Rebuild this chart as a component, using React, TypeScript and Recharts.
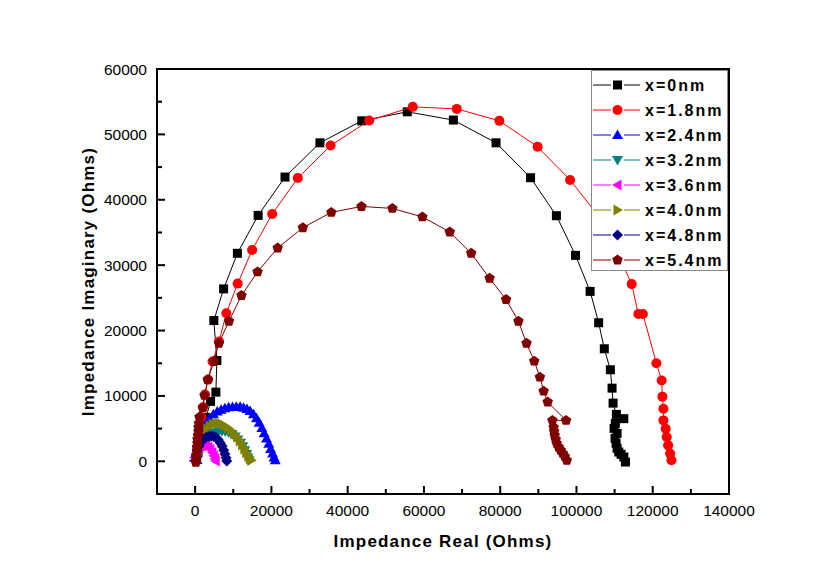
import React from "react";
import { ScatterChart, Scatter, XAxis, YAxis, ReferenceArea, Label } from "recharts";

const x0nm = [
  [340, 300], [740, 1530], [1270, 2900], [1930, 4580], [2850, 6720], [4040, 9160],
  [5440, 10580], [5700, 15420], [4910, 21530], [7470, 26370], [11080, 31810],
  [16520, 37610], [23570, 43470], [32720, 48710], [43700, 52070], [55630, 53450],
  [67720, 52190], [78910, 48710], [87960, 43370], [94740, 37560], [99750, 31500],
  [103580, 25990], [105820, 21190], [107300, 17210], [108890, 14000], [109330, 11190],
  [109600, 8900], [110470, 7180], [112420, 6520], [110200, 5800], [109860, 5040],
  [110650, 4280], [110120, 3510], [110390, 2750], [110650, 1990], [111100, 1420],
  [111710, 1070], [112420, 660], [112840, -110],
];

const x18nm = [
  [340, 760], [610, 1990], [870, 3360], [1270, 5040], [1660, 6720], [2060, 8250],
  [2590, 10230], [3380, 12520], [4570, 15270], [6280, 18320], [8180, 22650],
  [11160, 27180], [14940, 32330], [20210, 37820], [26920, 43320], [35520, 48300],
  [45650, 52120], [57080, 54210], [68610, 53900], [79780, 52070], [89810, 48100],
  [98330, 43020], [106500, 37000], [111000, 31500], [114480, 27100], [116230, 22520],
  [117420, 22520], [120950, 15010], [122340, 12370], [122530, 9890], [122800, 8050],
  [122800, 6260], [123400, 4990], [123670, 3710], [124030, 2440], [124560, 1180],
  [124900, 150],
];

const x24nm = [
  [500, 200], [700, 1300], [1000, 2500], [1500, 3700], [2100, 4800], [2900, 5800],
  [3800, 6600], [4800, 7200], [5800, 7600], [6800, 7900], [7800, 8100], [8800, 8250],
  [9800, 8300], [10800, 8350], [11800, 8350], [12700, 8200], [13600, 8000], [14400, 7700],
  [15300, 7200], [16100, 6600], [16800, 5900], [17500, 5100], [18100, 4300], [18700, 3500],
  [19300, 2700], [19800, 1900], [20300, 1200], [20700, 600], [21000, 150],
];

const x32nm = [
  [400, 100], [600, 900], [900, 1700], [1400, 2400], [2000, 3000], [2700, 3500],
  [3500, 3900], [4300, 4200], [5200, 4400], [6100, 4550], [7000, 4600], [7900, 4550],
  [8800, 4400], [9700, 4150], [10500, 3800], [11200, 3350], [11900, 2850], [12500, 2300],
  [13000, 1700], [13500, 1100], [13800, 600], [14100, 150],
];

const x36nm = [
  [-300, 100], [-100, 600], [200, 1100], [600, 1600], [1100, 2000], [1700, 2300],
  [2300, 2400], [2900, 2350], [3500, 2150], [4000, 1800], [4500, 1350], [4900, 850],
  [5200, 400], [5400, 50],
];

const x40nm = [
  [300, 100], [500, 1000], [800, 2000], [1200, 2900], [1700, 3700], [2300, 4400],
  [3000, 5000], [3800, 5400], [4600, 5700], [5400, 5850], [6200, 5850], [7000, 5700],
  [7800, 5450], [8600, 5100], [9400, 4700], [10200, 4200], [11000, 3700], [11700, 3100],
  [12300, 2500], [12900, 1900], [13400, 1300], [13900, 800], [14300, 400], [14700, 150],
];

const x48nm = [
  [100, 100], [300, 800], [600, 1600], [1000, 2300], [1500, 2900], [2100, 3350],
  [2800, 3650], [3500, 3800], [4200, 3850], [4900, 3800], [5500, 3600], [6100, 3250],
  [6600, 2800], [7100, 2300], [7500, 1700], [7800, 1100], [8100, 550], [8300, 50],
];

const x54nm = [
  [210, -150], [340, 300], [340, 920], [480, 1530], [480, 2140], [610, 2750], [610, 3360],
  [740, 3970], [870, 4580], [870, 5190], [1000, 5800], [1130, 6760], [2010, 8200],
  [2450, 10080], [3330, 12480], [4910, 15270], [6230, 18060], [8870, 21420], [12140, 25350],
  [16360, 28970], [21640, 32630], [28240, 35730], [35710, 38070], [43620, 38980],
  [51720, 38680], [59590, 37380], [66770, 35080], [72390, 31810], [77220, 27990],
  [81550, 24740], [84790, 21410], [86900, 18060], [88930, 15320], [90410, 12870],
  [91390, 10730], [92450, 9060], [97270, 6260], [93690, 6260], [94030, 5190], [94160, 4580],
  [94290, 3970], [94560, 3360], [94820, 2750], [95350, 2140], [95880, 1680], [96410, 1220],
  [96930, 760], [97460, 150],
];

const X_TICKS = [0, 10000, 20000, 30000, 40000, 50000, 60000, 70000, 80000, 90000, 100000, 110000, 120000, 130000, 140000];
const Y_TICKS = [0, 5000, 10000, 15000, 20000, 25000, 30000, 35000, 40000, 45000, 50000, 55000, 60000];

const SERIES = [
  { name: "x=0nm", color: "#000000", shape: "square", data: x0nm },
  { name: "x=1.8nm", color: "#ff0000", shape: "circle", data: x18nm },
  { name: "x=2.4nm", color: "#0000ff", shape: "up", data: x24nm },
  { name: "x=3.2nm", color: "#008080", shape: "down", data: x32nm },
  { name: "x=3.6nm", color: "#ff00ff", shape: "left", data: x36nm },
  { name: "x=4.0nm", color: "#808000", shape: "right", data: x40nm },
  { name: "x=4.8nm", color: "#000080", shape: "diamond", data: x48nm },
  { name: "x=5.4nm", color: "#800000", shape: "pentagon", data: x54nm },
];

const FONT = "'Liberation Sans', Arial, sans-serif";

function Marker({ kind, cx, cy, color }: { kind: string; cx: number; cy: number; color: string }) {
  const s = 5.5;
  const pts = (arr: number[][]) => arr.map(([a, b]) => `${cx + a},${cy + b}`).join(" ");
  switch (kind) {
    case "square":
      return <rect x={cx - 4.5} y={cy - 4.5} width={9} height={9} fill={color} />;
    case "circle":
      return <circle cx={cx} cy={cy} r={5} fill={color} />;
    case "up":
      return <polygon points={pts([[0, -s], [s, 4], [-s, 4]])} fill={color} />;
    case "down":
      return <polygon points={pts([[0, s], [s, -4], [-s, -4]])} fill={color} />;
    case "left":
      return <polygon points={pts([[-s, 0], [4, -s], [4, s]])} fill={color} />;
    case "right":
      return <polygon points={pts([[s, 0], [-4, -s], [-4, s]])} fill={color} />;
    case "diamond":
      return <polygon points={pts([[0, -s], [s, 0], [0, s], [-s, 0]])} fill={color} />;
    default: {
      const arr = [0, 1, 2, 3, 4].map((i) => {
        const a = -Math.PI / 2 + (i * 2 * Math.PI) / 5;
        return [Math.cos(a) * s, Math.sin(a) * s];
      });
      return <polygon points={pts(arr)} fill={color} />;
    }
  }
}

const shapeFor = (kind: string, color: string) => (p: any) => {
  if (p.cx == null || p.cy == null) return <g />;
  return <Marker kind={kind} cx={p.cx} cy={p.cy} color={color} />;
};

function XTick({ x, y, payload }: any) {
  const major = payload.value % 20000 === 0;
  return (
    <g>
      <line x1={x} x2={x} y1={y} y2={y - (major ? 8 : 5)} stroke="#000" strokeWidth={2} />
      {major && (
        <text x={x} y={y + 22} textAnchor="middle" fontSize={15.5} fontFamily={FONT} fill="#000">
          {payload.value}
        </text>
      )}
    </g>
  );
}

function YTick({ x, y, payload }: any) {
  const major = payload.value % 10000 === 0;
  return (
    <g>
      <line x1={x} x2={x + (major ? 8 : 5)} y1={y} y2={y} stroke="#000" strokeWidth={2} />
      {major && (
        <text x={x - 10} y={y + 5.5} textAnchor="end" fontSize={15.5} fontFamily={FONT} fill="#000">
          {payload.value}
        </text>
      )}
    </g>
  );
}

function ChartLegend() {
  return (
    <div
      style={{
        position: "absolute",
        left: 591,
        top: 70,
        width: 137,
        height: 201,
        boxSizing: "border-box",
        border: "1px solid #888",
        background: "#fff",
      }}
    >
      <svg width={137} height={201} style={{ position: "absolute", left: -1, top: -1 }}>
        {SERIES.map((s, i) => {
          const cy = 15 + i * 25;
          return (
            <g key={s.name}>
              <line x1={2} x2={20} y1={cy} y2={cy} stroke={s.color} strokeWidth={1} />
              <line x1={33} x2={49} y1={cy} y2={cy} stroke={s.color} strokeWidth={1} />
              <Marker kind={s.shape} cx={26.5} cy={cy} color={s.color} />
              <text x={54} y={cy + 6} fontSize={16} fontWeight="bold" letterSpacing={2} fontFamily={FONT} fill="#000">
                {s.name}
              </text>
            </g>
          );
        })}
      </svg>
    </div>
  );
}

export default function App() {
  return (
    <div style={{ position: "absolute", left: 0, top: 0, width: 830, height: 584, background: "#fff" }}>
      <ScatterChart width={830} height={584} margin={{ top: 69, right: 101, bottom: 0, left: 0 }}>
        <XAxis
          type="number"
          dataKey="x"
          domain={[-10000, 140000]}
          ticks={X_TICKS}
          interval={0}
          allowDataOverflow
          height={90}
          tickSize={0}
          tickMargin={0}
          tickLine={false}
          axisLine={{ stroke: "#000", strokeWidth: 2 }}
          tick={<XTick />}
        >
          <Label
            content={(p: any) => {
              const vb = p.viewBox || { x: 157, y: 494, width: 572 };
              return (
                <text x={vb.x + vb.width / 2} y={vb.y + 53} textAnchor="middle" fontSize={17} fontWeight="bold" letterSpacing={1.2} fontFamily={FONT} fill="#000">
                  Impedance Real (Ohms)
                </text>
              );
            }}
          />
        </XAxis>
        <YAxis
          type="number"
          dataKey="y"
          domain={[-5000, 60000]}
          ticks={Y_TICKS}
          interval={0}
          allowDataOverflow
          width={157}
          tickSize={0}
          tickMargin={0}
          tickLine={false}
          axisLine={{ stroke: "#000", strokeWidth: 2 }}
          tick={<YTick />}
        >
          <Label
            content={(p: any) => {
              const vb = p.viewBox || { x: 0, y: 69, height: 425 };
              const cx = 94;
              const cy = vb.y + vb.height / 2;
              return (
                <text x={cx} y={cy} transform={`rotate(-90, ${cx}, ${cy})`} textAnchor="middle" fontSize={17} fontWeight="bold" letterSpacing={1.2} fontFamily={FONT} fill="#000">
                  Impedance Imaginary (Ohms)
                </text>
              );
            }}
          />
        </YAxis>
        <ReferenceArea x1={-10000} x2={140000} y1={-5000} y2={60000} fill="none" stroke="#000" strokeWidth={2} fillOpacity={0} />
        {SERIES.map((s) => (
          <Scatter
            key={s.name}
            name={s.name}
            data={s.data.map(([x, y]) => ({ x, y }))}
            fill={s.color}
            line={{ stroke: s.color, strokeWidth: 1 }}
            lineJointType="linear"
            shape={shapeFor(s.shape, s.color)}
            isAnimationActive={false}
          />
        ))}
      </ScatterChart>
      <ChartLegend />
    </div>
  );
}
